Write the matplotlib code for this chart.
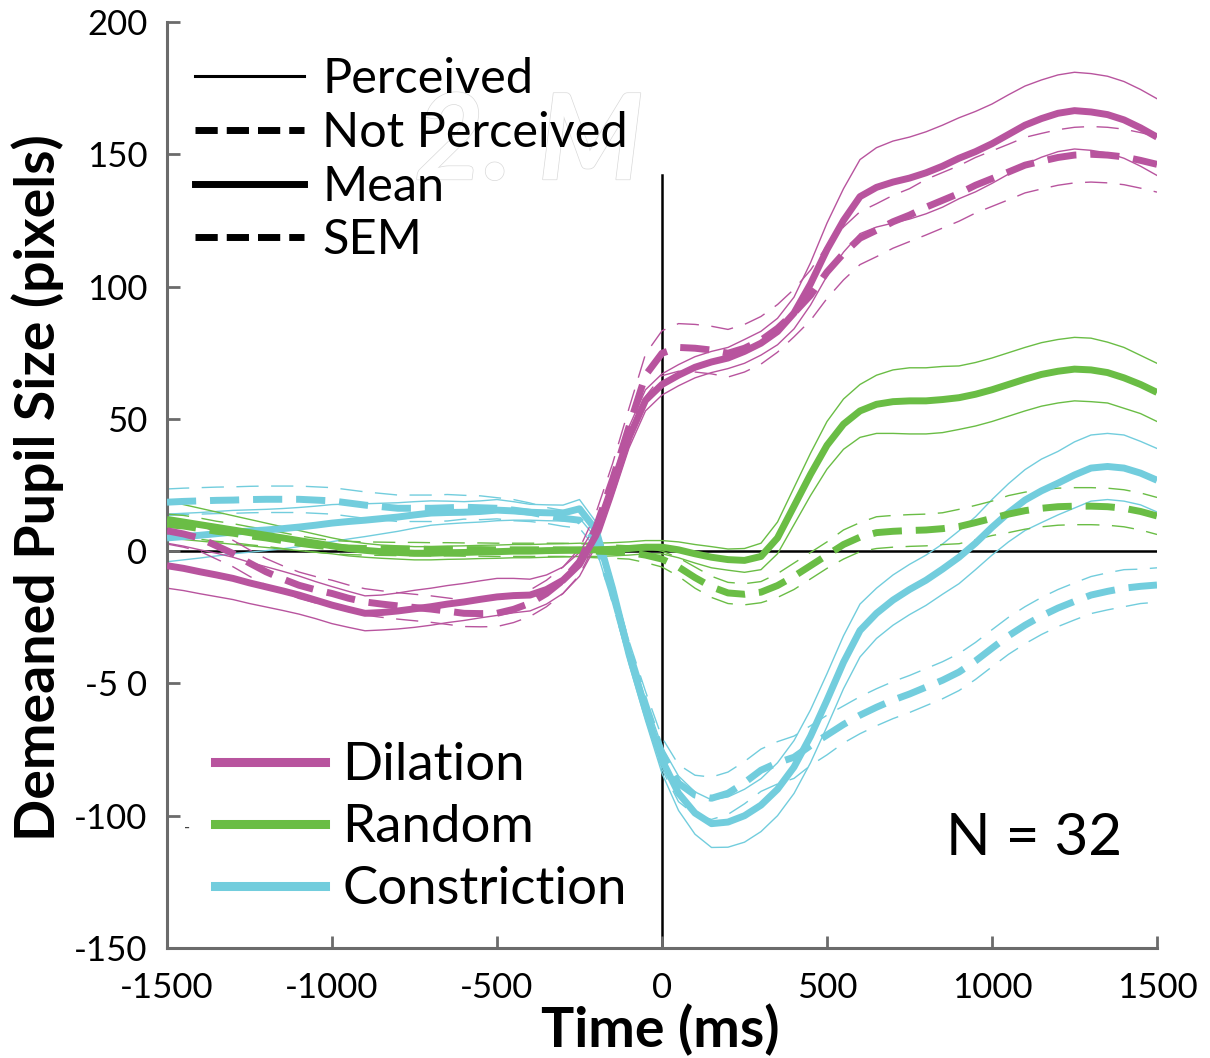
import numpy as np
import matplotlib
matplotlib.use("Agg")
import matplotlib.pyplot as plt
from matplotlib.lines import Line2D
import matplotlib.patheffects as pe

plt.rcParams['font.family'] = ['Lato', 'DejaVu Sans']
plt.rcParams['lines.scale_dashes'] = False

# ---------------- data ----------------
time_ms = np.arange(-1500, 1501, 50)

dil_perc = [-5.5, -6.5, -7.8, -9.0, -10.3, -12.0, -13.5, -15.0, -16.6, -18.5, -20.4,
            -22.0, -23.5, -23.2, -22.6, -21.8, -21.0, -20.0, -19.2, -18.2, -17.3,
            -16.8, -16.6, -14.5, -11.0, -5.0, 6.0, 24.0, 43.0, 57.0, 63.0,
            66.5, 69.5, 71.5, 73.0, 75.5, 78.6, 83.0, 90.0, 101.0, 114.0,
            125.0, 134.0, 137.5, 139.5, 141.0, 143.0, 145.5, 148.5, 151.0, 154.0,
            157.5, 161.0, 163.5, 165.5, 166.5, 166.0, 165.0, 163.0, 160.0, 156.5]
dil_perc_sem = [8.5, 8.4, 8.3, 8.2, 8.0, 7.8, 7.6, 7.4, 7.2, 7.0, 7.0,
                6.8, 6.6, 6.6, 6.8, 7.0, 7.0, 7.0, 7.0, 7.0, 7.0,
                6.5, 6.0, 5.5, 5.0, 4.5, 4.0, 4.0, 4.0, 4.0, 4.0,
                4.0, 4.0, 4.0, 4.0, 4.5, 4.5, 5.0, 6.0, 8.0, 10.0,
                12.0, 14.0, 15.0, 15.5, 15.5, 15.5, 15.5, 15.3, 15.2, 15.0,
                15.0, 14.8, 14.6, 14.5, 14.5, 14.5, 14.5, 14.5, 14.5, 14.5]
dil_notp = [7.7, 6.5, 4.9, 2.0, -0.9, -4.5, -7.8, -10.5, -12.9, -14.6, -16.0,
            -17.8, -19.2, -20.0, -20.7, -21.3, -21.9, -22.7, -23.5, -23.6, -23.5,
            -22.0, -19.7, -16.0, -11.0, -4.0, 9.0, 27.0, 47.0, 66.5, 74.8,
            77.0, 76.7, 76.0, 74.8, 76.7, 79.7, 84.2, 90.0, 96.7, 105.5,
            112.5, 118.3, 121.3, 124.5, 127.0, 130.0, 132.6, 135.2, 138.3, 140.8,
            143.3, 145.9, 147.4, 148.8, 149.7, 150.0, 149.7, 149.0, 147.7, 146.2]
dil_notp_sem = [5, 5, 5, 5, 5, 5, 5, 5, 5, 5, 5,
                5, 5, 5, 5, 5, 5, 5, 5, 5, 5,
                5, 5, 5, 5, 5, 5.5, 6, 7, 8, 8.5,
                9, 9, 9, 9, 9, 9, 9, 9, 9.5, 10,
                10, 10, 10, 10, 10, 10.5, 10.5, 10.5, 10.5, 10.5,
                10.5, 10.5, 10.5, 10.5, 10.5, 10.5, 10.5, 10.5, 10.5, 10.5]

rnd_perc = [12, 11, 10, 9, 8, 7, 6, 5, 4, 3, 2,
            1, 0.3, -0.2, -0.5, -0.8, -0.8, -0.6, -0.5, -0.3, -0.2,
            0, 0, 0.2, 0.3, 0.5, 0.5, 0.7, 1.0, 1.5, 1.5,
            0.5, -1, -2.3, -3.2, -3.5, -2, 5, 17, 29, 40,
            48, 53, 55.5, 56.5, 56.8, 56.8, 57.3, 58, 59.3, 61,
            63, 65, 66.8, 68, 68.8, 68.5, 67.5, 65.5, 63, 60]
rnd_perc_sem = [7, 6.6, 6.2, 5.8, 5.4, 5, 4.6, 4.2, 3.8, 3.4, 3,
                2.8, 2.6, 2.5, 2.5, 2.5, 2.5, 2.5, 2.5, 2.5, 2.5,
                2.5, 2.5, 2.5, 2.5, 2.5, 2.5, 2.5, 2.5, 2.5, 2.5,
                3, 3.5, 4, 4, 4.5, 5, 6, 7, 8, 9,
                9.5, 10, 11, 12, 12.5, 12.5, 12.5, 12, 12, 12,
                12, 12, 12, 12, 12, 12, 11.5, 11.5, 11, 11]
rnd_notp = [10, 9.5, 8.5, 7.5, 6.8, 5.8, 5, 4, 3, 2.2, 1.5,
            1.2, 1, 0.9, 0.8, 0.8, 0.7, 0.7, 0.6, 0.6, 0.5,
            0.5, 0.5, 0.5, 0.5, 0.3, 0, -0.2, -0.5, -1.5, -3,
            -6, -10, -13.5, -15.8, -16.3, -15.5, -13, -9.5, -5.5, -1.5,
            2.5, 5.3, 7, 7.5, 7.8, 8, 8.5, 9.3, 10.8, 12.4,
            14, 15.3, 16.2, 16.8, 17, 17, 16.8, 16.2, 15, 13.3]
rnd_notp_sem = [4, 4, 4, 3.8, 3.6, 3.4, 3.2, 3, 2.8, 2.6, 2.5,
                2.5, 2.5, 2.5, 2.5, 2.5, 2.5, 2.5, 2.5, 2.5, 2.5,
                2.5, 2.5, 2.5, 2.5, 2.5, 2.5, 2.5, 2.5, 2.8, 3,
                3.5, 4, 4, 4, 4, 4, 4.5, 5, 5, 5,
                5.5, 5.5, 6, 6, 6, 6, 6, 6.5, 6.5, 6.5,
                7, 7, 7, 7, 7, 7, 7, 7, 7, 7]

con_perc = [5, 5.5, 6, 6.6, 7.2, 7.6, 8, 8.5, 9.1, 9.8, 10.6,
            11.2, 11.7, 12.3, 12.9, 13.7, 14.4, 14.6, 14.7, 15, 15.5,
            15.2, 14.7, 14.5, 14.4, 16, 8, -14, -39, -60, -79,
            -91.5, -99, -103, -102.4, -100, -96, -90, -81.6, -70, -56.3,
            -42, -30, -23.5, -18.5, -14.5, -11, -6.8, -2.3, 3, 9,
            14.5, 19.3, 22.8, 25.7, 28.8, 31.4, 32, 31.4, 29.5, 26.8]
con_perc_sem = [9, 8.8, 8.6, 8.4, 8.2, 8, 7.8, 7.6, 7.4, 7.2, 7,
                6.6, 6.2, 5.8, 5.4, 5, 4.6, 4.3, 4, 4, 4,
                3.5, 3, 3, 3, 3.5, 3, 3, 3.5, 4, 5,
                6.5, 8, 9, 9.5, 10, 10, 10, 10, 10, 10,
                10, 10, 9.5, 9.5, 9.5, 9.5, 9.5, 10, 10, 10.5,
                11, 11.5, 12, 12, 12.5, 12.5, 12.5, 12.5, 12, 12]
con_notp = [18.5, 18.8, 19, 19.2, 19.3, 19.5, 19.6, 19.6, 19.6, 19.3, 19,
            18.2, 17.4, 16.8, 16.2, 16.2, 16.2, 16.4, 16.6, 16.4, 16.2,
            15.5, 14.7, 13.5, 12.4, 11.7, 4, -16, -38, -58, -76.5,
            -87.7, -92.2, -93.4, -91.5, -87.5, -82.8, -80, -77.9, -73.5, -69.5,
            -65.5, -62, -59, -56.3, -54, -51.4, -48.8, -45.7, -41.5, -36.7,
            -32, -28, -24.5, -21.5, -19, -16.6, -15.2, -14, -13.3, -12.8]
con_notp_sem = [5, 5, 5, 5, 5, 5, 5, 5, 5, 5, 5,
                5, 5, 5, 5, 5, 5, 5, 4.5, 4.5, 4,
                4, 3.5, 3, 3, 3, 3, 3.5, 4, 5, 6,
                7, 7.5, 8, 8, 8, 8, 8, 8, 7.5, 7.5,
                7, 7, 7, 7, 7, 7, 7, 7, 7, 7,
                7, 7, 7, 7, 7, 7, 7, 7, 6.5, 6.5]

conditions = ["Dilation", "Random", "Constriction"]
colors = {"Dilation": "#B8549E", "Random": "#6ABD45", "Constriction": "#72CDDD"}
series = {
    "Dilation": (dil_perc, dil_perc_sem, dil_notp, dil_notp_sem),
    "Random": (rnd_perc, rnd_perc_sem, rnd_notp, rnd_notp_sem),
    "Constriction": (con_perc, con_perc_sem, con_notp, con_notp_sem),
}

y_ticks = [-150, -100, -50, 0, 50, 100, 150, 200]
y_tick_labels = ["-150", "-100", "-5 0", "0", "50", "100", "150", "200"]
x_ticks = [-1500, -1000, -500, 0, 500, 1000, 1500]
x_tick_labels = ["-1500", "-1000", "-500", "0", "500", "1000", "1500"]
onset_line_top = 142
n_subjects = 32

# ---------------- figure ----------------
fig = plt.figure(figsize=(12.1, 10.58), dpi=100)
ax = fig.add_axes([167 / 1210, 110 / 1058, 990 / 1210, 926 / 1058])
ax.set_xlim(-1500, 1500)
ax.set_ylim(-150, 200)

ax.axhline(0, color='black', lw=1.8, zorder=1)
ax.plot([0, 0], [-150, onset_line_top], color='black', lw=1.8, zorder=1)

THICK = 5.0
THIN = 1.0
thick_dash = (21, 10)
thin_dash = (16, 9)

for cond in ["Constriction", "Random", "Dilation"]:
    c = colors[cond]
    mp, sp, mn, sn = [np.asarray(a, float) for a in series[cond]]
    # perceived
    ax.plot(time_ms, mp, color=c, lw=THICK, solid_capstyle='butt', zorder=3)
    ax.plot(time_ms, mp + sp, color=c, lw=THIN, zorder=2)
    ax.plot(time_ms, mp - sp, color=c, lw=THIN, zorder=2)
    # not perceived
    ax.plot(time_ms, mn, color=c, lw=THICK, dashes=thick_dash, dash_capstyle='butt', zorder=3)
    ax.plot(time_ms, mn + sn, color=c, lw=THIN, dashes=thin_dash, zorder=2)
    ax.plot(time_ms, mn - sn, color=c, lw=THIN, dashes=thin_dash, zorder=2)

# axes styling
for s in ['top', 'right']:
    ax.spines[s].set_visible(False)
for s in ['left', 'bottom']:
    ax.spines[s].set_color('#6b6b6b')
    ax.spines[s].set_linewidth(2.2)
ax.set_yticks(y_ticks)
ax.set_yticklabels(y_tick_labels)
ax.set_xticks(x_ticks)
ax.set_xticklabels(x_tick_labels)
ax.tick_params(axis='both', direction='in', length=9, width=2, color='#6b6b6b',
               labelsize=25)
ax.tick_params(axis='x', pad=17)
ax.tick_params(axis='y', pad=14)

ax.set_xlabel("Time (ms)", fontsize=40, fontweight='bold')
ax.xaxis.set_label_coords(0.498, -0.06)
ax.set_ylabel("Demeaned Pupil Size (pixels)", fontsize=40, fontweight='bold')
ax.yaxis.set_label_coords(-0.104, 0.497)

# ghost artefact text
ax.text(0.25, 0.83, "2. M", transform=ax.transAxes, fontsize=86, color='white',
        fontweight='bold', style='italic', zorder=1,
        path_effects=[pe.Stroke(linewidth=1.0, foreground='#d9d9d9'), pe.Normal()])

# small stray mark near the left spine
ax.text(0.02, 0.13, "-", transform=ax.transAxes, fontsize=12, color='#444444',
        ha='center', va='center')

# line-style legend
style_handles = [
    Line2D([], [], color='black', lw=2.2),
    Line2D([], [], color='black', lw=THICK, dashes=(16, 6.5), dash_capstyle='butt'),
    Line2D([], [], color='black', lw=THICK),
    Line2D([], [], color='black', lw=THICK, dashes=(16, 6.5), dash_capstyle='butt'),
]
leg1 = ax.legend(style_handles, ["Perceived", "Not Perceived", "Mean", "SEM"],
                 loc='upper left', bbox_to_anchor=(0.028, 0.962), frameon=False,
                 fontsize=35, handlelength=2.25, handletextpad=0.37,
                 labelspacing=0.2, borderpad=0, borderaxespad=0)
ax.add_artist(leg1)

cond_handles = [Line2D([], [], color=colors[c], lw=6.5) for c in conditions]
leg2 = ax.legend(cond_handles, conditions, loc='upper left',
                 bbox_to_anchor=(0.048, 0.222), frameon=False, fontsize=38,
                 handlelength=2.1, handletextpad=0.32, labelspacing=0.28,
                 borderpad=0, borderaxespad=0)

ax.text(0.965, 0.118, f"N = {n_subjects}", transform=ax.transAxes, fontsize=42,
        ha='right', va='center')

fig.savefig("out.png", dpi=100)
